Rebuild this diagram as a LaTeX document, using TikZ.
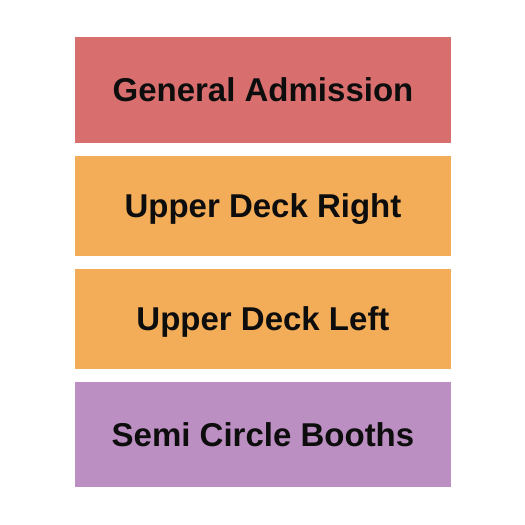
\documentclass[tikz,border=0pt]{standalone}
\usepackage{fontspec}
\setmainfont{Liberation Sans}
\definecolor{general color}{HTML}{D86F6E}
\definecolor{deck color}{HTML}{F3AD58}
\definecolor{booth color}{HTML}{BC8FC2}
\tikzset{
    x={1pt},
    y={-1pt},
    section/.style={
        fill={#1},
        draw=none,
        rectangle,
        minimum width={376},
        inner sep=0pt,
        outer sep=0pt,
        text height={23.6pt},
        text depth={0pt},
        font={\fontsize{33}{40}\selectfont\bfseries\color{black!95}},
    },
}

\begin{document}
\begin{tikzpicture}
% canvas
\useasboundingbox (0,0) rectangle (525,525);
% sections
\node[section={general color}, minimum height={106}] (general) at (263,90) {General Admission};
\node[section={deck color}, minimum height={100}] (right deck) at (263,206) {Upper Deck Right};
\node[section={deck color}, minimum height={100}] (left deck) at (263,319) {Upper Deck Left};
\node[section={booth color}, minimum height={105}] (booths) at (263,434.5) {Semi Circle Booths};
\end{tikzpicture}
\end{document}
